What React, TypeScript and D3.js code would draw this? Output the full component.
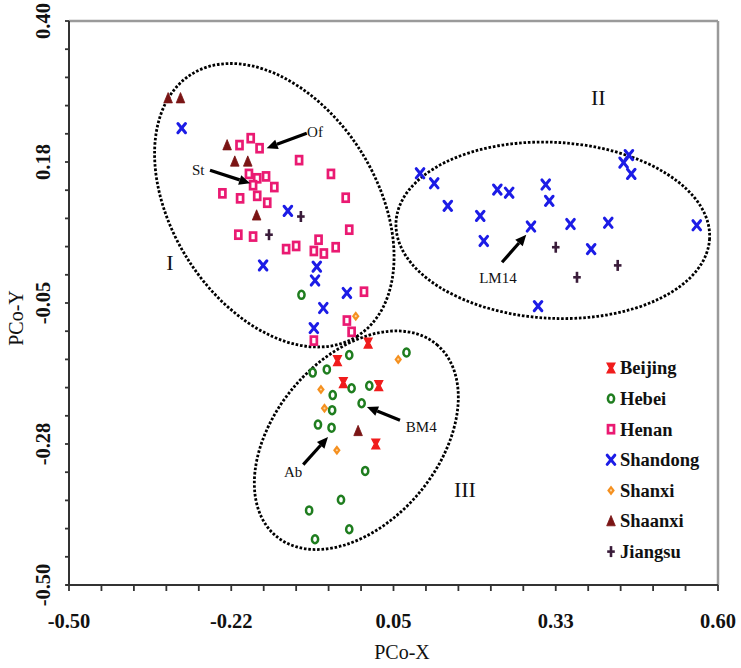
import React from 'react';
import * as d3 from 'd3';

const W = 741;
const H = 668;
const xDomain: [number, number] = [-0.5, 0.6];
const yDomain: [number, number] = [-0.5, 0.4];
const xMajor = [-0.5, -0.225, 0.05, 0.325, 0.6];
const xMajorLabels = ['-0.50', '-0.22', '0.05', '0.33', '0.60'];
const yMajor = [-0.5, -0.275, -0.05, 0.175, 0.4];
const yMajorLabels = ['-0.50', '-0.28', '-0.05', '0.18', '0.40'];

type P = [number, number];

const beijing: P[] = [[0.007, -0.114], [-0.045, -0.142], [-0.035, -0.177], [0.025, -0.182], [0.020, -0.275]];
const hebei: P[] = [[-0.106, -0.037], [-0.025, -0.133], [0.072, -0.129], [-0.087, -0.161], [-0.063, -0.156], [-0.021, -0.186], [0.009, -0.182], [-0.053, -0.197], [-0.004, -0.210], [-0.054, -0.221], [-0.078, -0.244], [-0.055, -0.249], [0.002, -0.318], [-0.039, -0.364], [-0.093, -0.381], [-0.025, -0.411], [-0.083, -0.427]];
const henan: P[] = [[-0.211, 0.202], [-0.192, 0.213], [-0.177, 0.197], [-0.110, 0.178], [-0.056, 0.156], [-0.195, 0.156], [-0.181, 0.149], [-0.166, 0.152], [-0.188, 0.138], [-0.152, 0.135], [-0.240, 0.125], [-0.210, 0.117], [-0.181, 0.121], [-0.164, 0.110], [-0.031, 0.118], [-0.025, 0.067], [-0.213, 0.059], [-0.188, 0.056], [-0.132, 0.036], [-0.115, 0.041], [-0.077, 0.051], [-0.085, 0.033], [-0.068, 0.029], [-0.048, 0.039], [0.000, -0.032], [-0.029, -0.078], [-0.021, -0.096], [-0.085, -0.110]];
const shandong: P[] = [[-0.309, 0.229], [-0.129, 0.097], [-0.171, 0.010], [-0.080, 0.008], [-0.083, -0.014], [-0.029, -0.034], [-0.069, -0.058], [-0.085, -0.090], [0.095, 0.157], [0.119, 0.141], [0.142, 0.105], [0.197, 0.089], [0.203, 0.049], [0.226, 0.131], [0.246, 0.126], [0.308, 0.139], [0.314, 0.113], [0.283, 0.072], [0.350, 0.076], [0.385, 0.036], [0.414, 0.078], [0.295, -0.055], [0.440, 0.174], [0.449, 0.186], [0.453, 0.156], [0.564, 0.074]];
const shanxi: P[] = [[-0.014, -0.071], [0.058, -0.140], [-0.073, -0.188], [-0.067, -0.218], [-0.046, -0.285]];
const shaanxi: P[] = [[-0.332, 0.277], [-0.311, 0.277], [-0.232, 0.202], [-0.219, 0.176], [-0.197, 0.176], [-0.182, 0.090], [-0.010, -0.254]];
const jiangsu: P[] = [[-0.107, 0.088], [-0.161, 0.059], [0.325, 0.039], [0.361, -0.009], [0.430, 0.010]];

const seriesNames = ['Beijing', 'Hebei', 'Henan', 'Shandong', 'Shanxi', 'Shaanxi', 'Jiangsu'];
const seriesData: P[][] = [beijing, hebei, henan, shandong, shanxi, shaanxi, jiangsu];
const seriesColors = ['#f01c1c', '#1f7d1f', '#ea1a72', '#1c1ce6', '#f5901f', '#7a1414', '#3a1c3a'];

// cluster ellipses: center (data), radii (px), rotation (deg)
const clusterNames = ['I', 'II', 'III'];
const clusterCenters: P[] = [[-0.152, 0.106], [0.320, 0.066], [-0.013, -0.269]];
const clusterRadii: P[] = [[155, 102], [157, 88], [125, 82]];
const clusterAngles = [57.5, 3, -50];
const clusterLabelPos: P[] = [[-0.329, 0.015], [0.397, 0.279], [0.171, -0.348]];

// annotations: label, label position, arrow tail, arrow head (data)
const annLabels = ['Of', 'St', 'LM14', 'BM4', 'Ab'];
const annText: P[] = [[-0.083, 0.223], [-0.281, 0.162], [0.227, -0.009], [0.097, -0.248], [-0.120, -0.320]];
const annTail: P[] = [[-0.097, 0.221], [-0.261, 0.162], [0.234, 0.015], [0.061, -0.237], [-0.103, -0.308]];
const annHead: P[] = [[-0.165, 0.197], [-0.193, 0.141], [0.275, 0.059], [0.005, -0.216], [-0.061, -0.264]];

const serif = '"Liberation Serif", "Times New Roman", serif';

function Marker({ kind, x, y, color }: { kind: number; x: number; y: number; color: string }) {
  const t = `translate(${x},${y})`;
  switch (kind) {
    case 0:
      return <path transform={t} d="M-4,-5H4L1.4,0L4,5H-4L-1.4,0Z" fill={color} stroke={color} strokeWidth={1.2} />;
    case 1:
      return <ellipse transform={t} rx={3.1} ry={4} fill="#fff" stroke={color} strokeWidth={2.5} />;
    case 2:
      return <rect transform={t} x={-3} y={-4} width={6} height={8} fill="#fff" stroke={color} strokeWidth={2.7} />;
    case 3:
      return (
        <g transform={t} stroke={color} strokeWidth={3} strokeLinecap="round">
          <line x1={-3.8} y1={-4.6} x2={3.8} y2={4.6} />
          <line x1={3.8} y1={-4.6} x2={-3.8} y2={4.6} />
        </g>
      );
    case 4:
      return (
        <g transform={t}>
          <path d="M0,-5L3.8,0L0,5L-3.8,0Z" fill={color} />
          <circle r={1.1} fill="#fbd3a0" />
        </g>
      );
    case 5:
      return <path transform={t} d="M0,-5.5L4.3,4.8H-4.3Z" fill={color} stroke={color} strokeWidth={0.8} strokeLinejoin="round" />;
    default:
      return (
        <g transform={t} stroke={color} strokeWidth={2.6}>
          <line x1={0} y1={-5.5} x2={0} y2={5.5} />
          <line x1={-3.8} y1={0} x2={3.8} y2={0} />
        </g>
      );
  }
}

function Arrow({ x1, y1, x2, y2 }: { x1: number; y1: number; x2: number; y2: number }) {
  const ang = Math.atan2(y2 - y1, x2 - x1);
  const hl = 11;
  const hw = 5;
  const bx = x2 - hl * Math.cos(ang);
  const by = y2 - hl * Math.sin(ang);
  const px = -Math.sin(ang) * hw;
  const py = Math.cos(ang) * hw;
  return (
    <g>
      <line x1={x1} y1={y1} x2={bx} y2={by} stroke="#000" strokeWidth={3.2} />
      <path d={`M${x2},${y2}L${bx + px},${by + py}L${bx - px},${by - py}Z`} fill="#000" />
    </g>
  );
}

export default function App() {
  const left = 69, right = 718, top = 21, bottom = 585;
  const x = d3.scaleLinear().domain(xDomain).range([left, right]);
  const y = d3.scaleLinear().domain(yDomain).range([bottom, top]);
  const minorX = d3.range(0, 21).map((i) => xDomain[0] + (i * (xDomain[1] - xDomain[0])) / 20);
  const minorY = d3.range(0, 21).map((i) => yDomain[0] + (i * (yDomain[1] - yDomain[0])) / 20);

  return (
    <svg width={W} height={H} style={{ position: 'absolute', left: 0, top: 0, background: '#fff' }}>
      <rect width={W} height={H} fill="#fff" />
      {/* frame */}
      <line x1={left} y1={top} x2={right} y2={top} stroke="#9a9a9a" strokeWidth={2.5} />
      <line x1={right} y1={top} x2={right} y2={bottom} stroke="#9a9a9a" strokeWidth={2.5} />
      <line x1={left} y1={top} x2={left} y2={bottom} stroke="#333" strokeWidth={2} />
      <line x1={left - 3} y1={bottom} x2={right} y2={bottom} stroke="#333" strokeWidth={2} />
      {minorX.map((v, i) => (
        <line key={'xt' + i} x1={x(v)} x2={x(v)} y1={bottom} y2={bottom + 6} stroke="#333" strokeWidth={1.8} />
      ))}
      {minorY.map((v, i) => (
        <line key={'yt' + i} x1={left - 4} x2={left} y1={y(v)} y2={y(v)} stroke="#333" strokeWidth={1.8} />
      ))}
      {xMajor.map((v, i) => (
        <text key={'xl' + i} x={x(v)} y={628} textAnchor="middle" fontFamily={serif} fontWeight="bold" fontSize={20.5} fill="#111">
          {xMajorLabels[i]}
        </text>
      ))}
      {yMajor.map((v, i) => (
        <text key={'yl' + i} transform={`translate(50,${y(v)}) rotate(-90)`} textAnchor="middle" fontFamily={serif} fontWeight="bold" fontSize={20.5} fill="#111">
          {yMajorLabels[i]}
        </text>
      ))}
      <text x={402} y={659} textAnchor="middle" fontFamily={serif} fontSize={20} fill="#111">PCo-X</text>
      <text transform="translate(23,318) rotate(-90)" textAnchor="middle" fontFamily={serif} fontSize={20} fill="#111">PCo-Y</text>

      {/* cluster ellipses */}
      {clusterCenters.map((c, i) => (
        <ellipse
          key={'el' + i}
          transform={`translate(${x(c[0])},${y(c[1])}) rotate(${clusterAngles[i]})`}
          rx={clusterRadii[i][0]}
          ry={clusterRadii[i][1]}
          fill="none"
          stroke="#000"
          strokeWidth={2.8}
          strokeDasharray="2.6 1.8"
        />
      ))}
      {clusterLabelPos.map((p, i) => (
        <text key={'cl' + i} x={x(p[0])} y={y(p[1])} dy="0.35em" textAnchor="middle" fontFamily={serif} fontSize={22} fill="#111">
          {clusterNames[i]}
        </text>
      ))}

      {/* points */}
      {seriesData.map((pts, si) =>
        pts.map((p, pi) => <Marker key={`m${si}-${pi}`} kind={si} x={x(p[0])} y={y(p[1])} color={seriesColors[si]} />)
      )}

      {/* annotations */}
      {annLabels.map((l, i) => (
        <g key={'an' + i}>
          <Arrow x1={x(annTail[i][0])} y1={y(annTail[i][1])} x2={x(annHead[i][0])} y2={y(annHead[i][1])} />
          <text x={x(annText[i][0])} y={y(annText[i][1])} dy="0.35em" textAnchor="middle" fontFamily={serif} fontSize={15} fill="#111">
            {l}
          </text>
        </g>
      ))}

      {/* legend */}
      {seriesNames.map((n, i) => (
        <g key={'lg' + i}>
          <Marker kind={i} x={611} y={368 + i * 30.6} color={seriesColors[i]} />
          <text x={620} y={368 + i * 30.6} dy="0.35em" fontFamily={serif} fontWeight="bold" fontSize={18.5} fill="#111">
            {n}
          </text>
        </g>
      ))}
    </svg>
  );
}
